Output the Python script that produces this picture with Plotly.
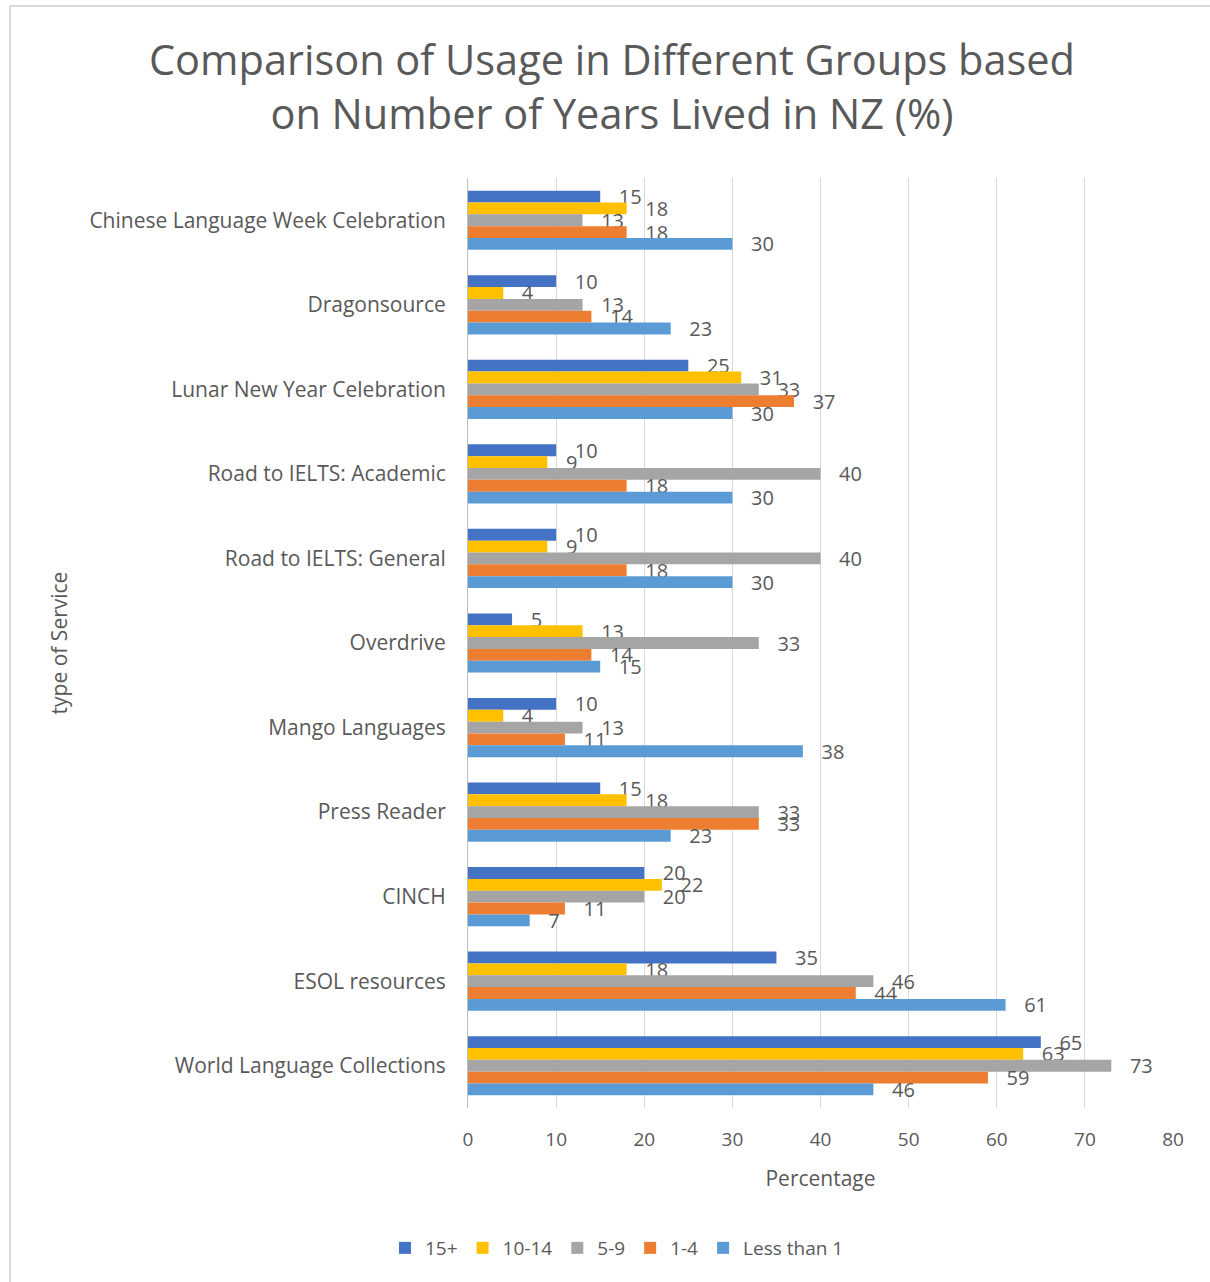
import plotly.graph_objects as go

categories = [
    "Chinese Language Week Celebration",
    "Dragonsource",
    "Lunar New Year Celebration",
    "Road to IELTS: Academic",
    "Road to IELTS: General",
    "Overdrive",
    "Mango Languages",
    "Press Reader",
    "CINCH",
    "ESOL resources",
    "World Language Collections",
]

series_names = ["15+", "10-14", "5-9", "1-4", "Less than 1"]
v_15plus = [15, 10, 25, 10, 10, 5, 10, 15, 20, 35, 65]
v_10_14 = [18, 4, 31, 9, 9, 13, 4, 18, 22, 18, 63]
v_5_9 = [13, 13, 33, 40, 40, 33, 13, 33, 20, 46, 73]
v_1_4 = [18, 14, 37, 18, 18, 14, 11, 33, 11, 44, 59]
v_less1 = [30, 23, 30, 30, 30, 15, 38, 23, 7, 61, 46]

x_ticks = [0, 10, 20, 30, 40, 50, 60, 70, 80]

series_values = [v_15plus, v_10_14, v_5_9, v_1_4, v_less1]
colors = ["#4472C4", "#FFC000", "#A5A5A5", "#ED7D31", "#5B9BD5"]

FONT = "Open Sans"
TXT = "#595959"

fig = go.Figure()
for name, vals, col in zip(series_names, series_values, colors):
    fig.add_trace(go.Bar(
        y=categories, x=vals, name=name, orientation="h",
        marker=dict(color=col, line=dict(width=0)),
        texttemplate="   %{x}", textposition="outside",
        constraintext="none", cliponaxis=False,
        textfont=dict(family=FONT, size=20, color=TXT),
    ))

W, H = 1210, 1282
L, R, T, B = 468, 37, 178, 174
pw, ph = W - L - R, H - T - B

def px_x(p):
    return (p - L) / pw

def px_y(p):
    return (H - B - p) / ph

fig.update_layout(
    width=W, height=H,
    margin=dict(l=L, r=R, t=T, b=B, pad=0),
    paper_bgcolor="white", plot_bgcolor="white",
    barmode="group", bargap=0.30, bargroupgap=0,
    font=dict(family=FONT, color=TXT),
    title=dict(
        text="Comparison of Usage in Different Groups based<br>on Number of Years Lived in NZ (%)",
        xref="container", yref="container",
        x=612 / W, xanchor="center", y=1 - 75 / H, yanchor="middle",
        font=dict(family=FONT, size=41.5, color=TXT),
    ),
    xaxis=dict(
        range=[0, 80], tickvals=x_ticks, ticktext=[str(t) for t in x_ticks],
        showgrid=True, gridcolor="#D9D9D9", gridwidth=1,
        zeroline=False, showline=False, ticks="",
        tickfont=dict(family=FONT, size=19, color=TXT),
        ticklabelstandoff=18,
        title=dict(text="Percentage", font=dict(family=FONT, size=21, color=TXT), standoff=20),
    ),
    yaxis=dict(
        autorange="reversed", showgrid=False, zeroline=False,
        showline=True, linecolor="#BFBFBF", linewidth=1, ticks="",
        tickfont=dict(family=FONT, size=21, color=TXT),
        ticklabelstandoff=17,
        title=dict(text="type of Service", font=dict(family=FONT, size=21, color=TXT), standoff=16),
    ),
    legend=dict(
        orientation="h", x=px_x(617), xanchor="center", y=px_y(1248), yanchor="middle",
        font=dict(family=FONT, size=19, color=TXT), traceorder="normal",
        itemwidth=30, tracegroupgap=0,
    ),
    showlegend=True,
    shapes=[
        dict(type="line", xref="paper", yref="paper", x0=px_x(10), x1=px_x(10),
             y0=px_y(6), y1=px_y(1282), line=dict(color="#D9D9D9", width=2)),
        dict(type="line", xref="paper", yref="paper", x0=px_x(10), x1=px_x(1210),
             y0=px_y(6), y1=px_y(6), line=dict(color="#D9D9D9", width=2)),
    ],
)

fig.write_html("out.html")
